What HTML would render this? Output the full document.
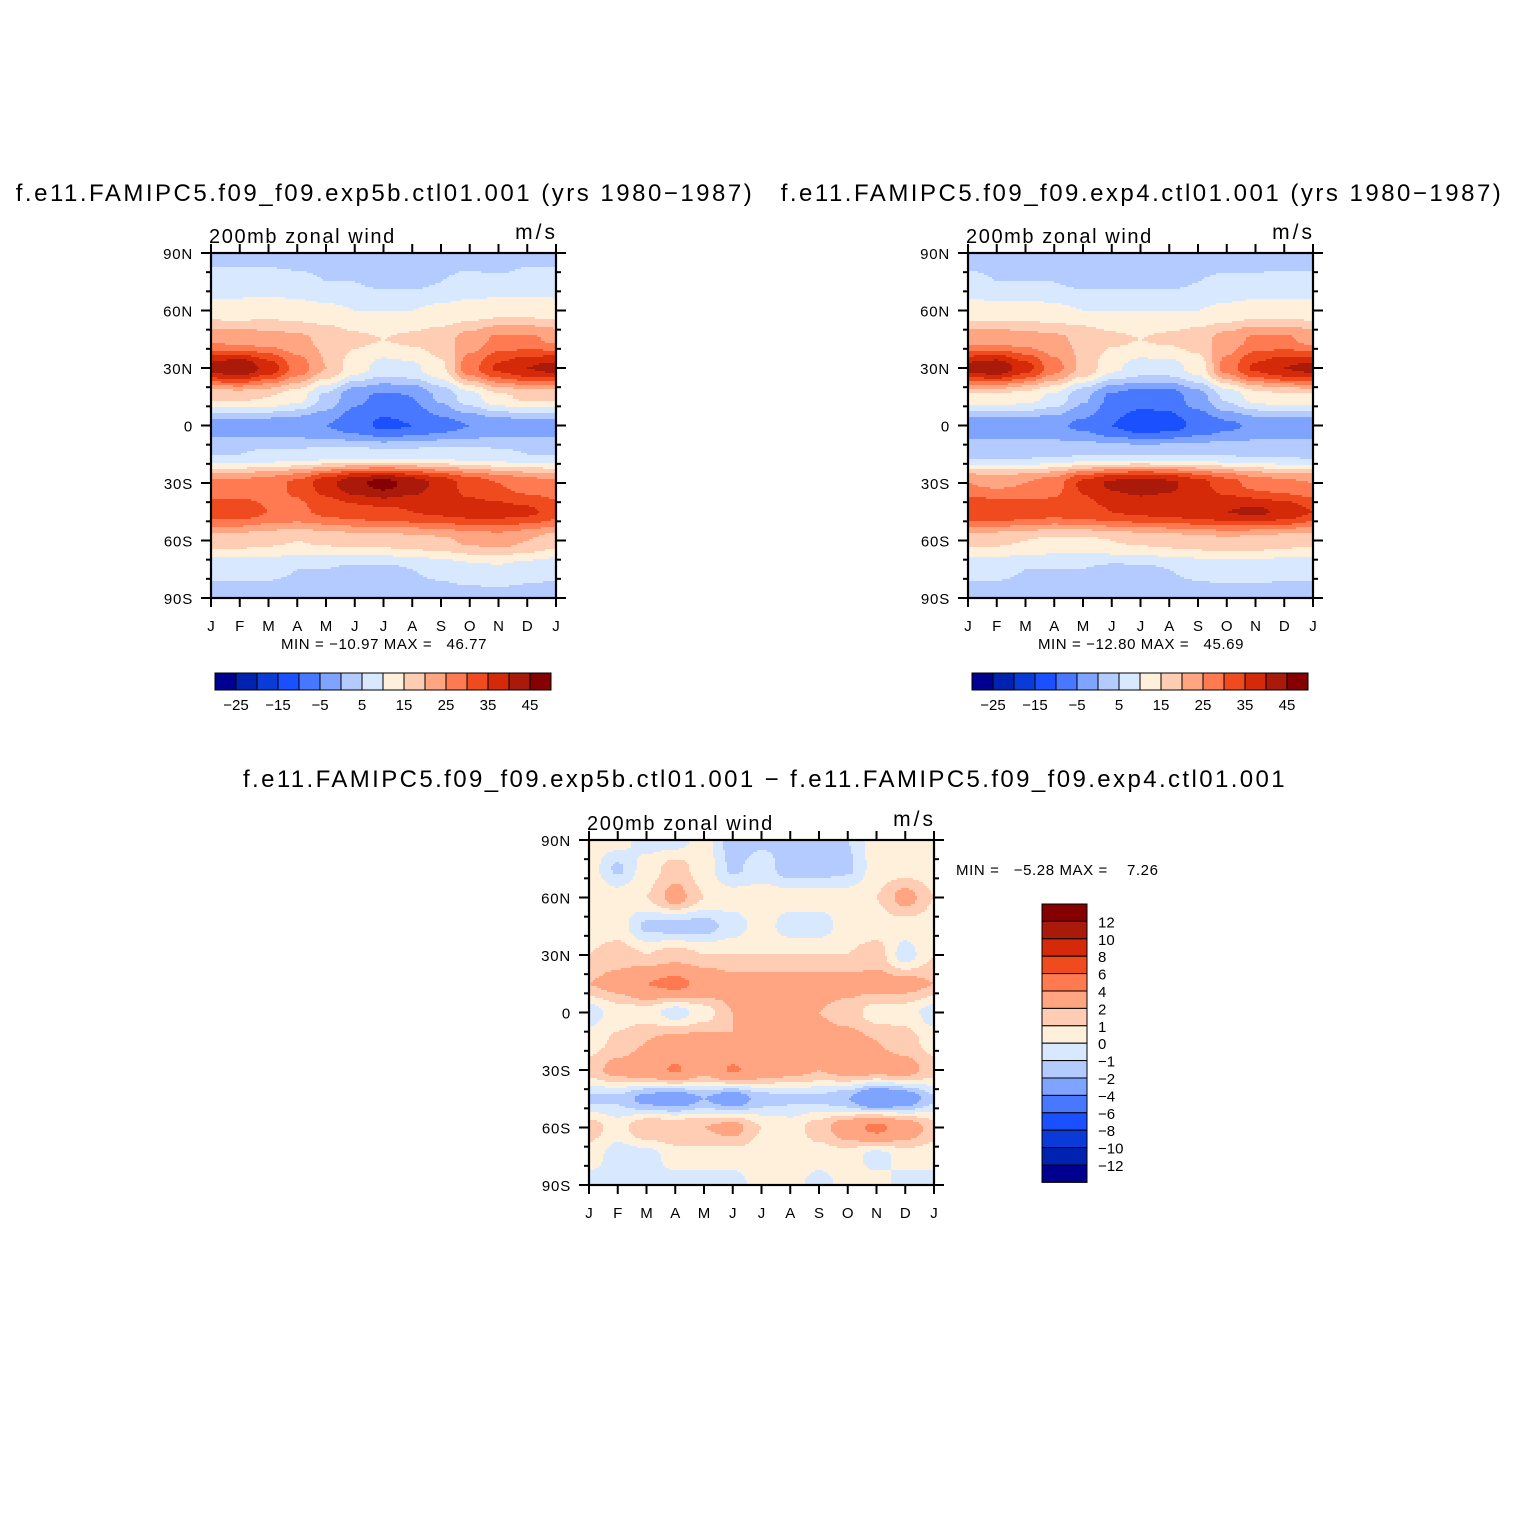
<!DOCTYPE html>
<html><head><meta charset="utf-8">
<style>
html,body{margin:0;padding:0;background:#fff;}
svg{display:block;font-family:"Liberation Sans",sans-serif;}
text{white-space:pre;}
</style></head>
<body>
<svg id="root" width="1524" height="1524" viewBox="0 0 1524 1524" xmlns="http://www.w3.org/2000/svg">
<rect width="1524" height="1524" fill="#fff"/>
</svg>
<script>
const months = ["J","F","M","A","M","J","J","A","S","O","N","D","J"];
const lats = [90,75,60,45,30,15,0,-15,-30,-45,-60,-75,-90];
const latTicks = ["90N","60N","30N","0","30S","60S","90S"];
const palette = ["#000090","#0022b0","#0a3ad8","#1a50ff","#4878ff","#7ea4ff","#b4cbff","#d8e8ff","#fff0dc","#ffcdb4","#ffa582","#ff7a50","#f04b1e","#d42a0a","#aa1a0a","#850000"];
const levelsFull = [-25,-20,-15,-10,-5,0,5,10,15,20,25,30,35,40,45];
const levelsDiff = [-12,-10,-8,-6,-4,-2,-1,0,1,2,4,6,8,10,12];
const cbLabelsFull = ["-25","-15","-5","5","15","25","35","45"];
const cbLabelsDiff = ["12","10","8","6","4","2","1","0","\u22121","\u22122","\u22124","\u22126","\u22128","\u221210","\u221212"];
const fieldA = [
[3,3,3,3,3,3,3,3,3,3,1,3,3],
[7,7,7,6,5,5,4,4,5,6,6,7,7],
[12,12,13,12,11,10,10,10,11,12,13,13,12],
[24,23,22,21,19,16,15,16,18,22,26,26,24],
[42,45,38,28,20,12,8,9,14,28,36,40,42],
[16,16,15,12,4,-4,-6,-5,1,8,14,16,16],
[-3,-3,-3,-4,-5,-8,-11,-10,-7,-5,-3,-3,-3],
[5,5,6,6,7,7,7,7,7,7,6,5,5],
[26,26,28,31,38,44,47,43,38,33,30,27,26],
[33,33,30,29,31,33,34,35,36,37,37,36,33],
[17,17,16,15,16,17,17,18,19,21,22,20,17],
[6,6,6,5,5,4,4,5,6,8,9,7,6],
[3,3,3,3,3,2,2,3,3,3,3,3,3]];
const fieldB = [
[3,3,3,2,2,2,2,2,2,2,2,3,3],
[6,5,5,5,4,4,4,4,5,6,6,6,6],
[12,12,12,11,10,10,10,10,10,11,12,12,12],
[23,23,22,21,19,16,15,16,18,22,26,26,23],
[42,44,37,27,19,11,8,8,12,27,36,40,42],
[14,14,12,9,1,-6,-8,-8,-2,6,12,14,14],
[-3,-3,-3,-4,-6,-10,-13,-12,-9,-6,-4,-3,-3],
[4,4,4,4,5,5,5,5,5,5,4,4,4],
[25,24,25,28,36,41,43,41,37,32,28,26,25],
[35,35,33,32,33,35,36,37,38,40,41,39,35],
[16,16,15,14,14,15,16,17,18,19,18,17,16],
[6,6,5,5,5,4,4,5,6,7,7,6,6],
[3,3,3,3,3,3,3,3,3,3,3,3,3]];
const fieldD = [
[0.5,0.5,-0.5,-0.5,0.5,-1.5,-1.2,-1.2,-1.5,-1,0.5,0.5,0.5],
[0.5,-1.2,0.5,1.5,0.5,-1.2,-0.5,-1.5,-1.5,-1.2,0.5,0.5,0.5],
[1,0.5,1,2.5,1,0.5,0.5,0.5,0.5,0.5,1,2.5,1],
[0.5,0.5,-1.2,-1.5,-1.5,-0.5,0.5,-0.5,-0.5,0.5,0.5,0.5,0.5],
[1,1.5,1,1.5,1,1,1,1,1,1,1.5,-0.5,1],
[2,2.5,4,4.5,3.5,2.5,2.5,2.5,2.5,2.5,2.5,2.5,2],
[-0.5,0.5,0.5,-0.5,0.5,2,2.5,2.5,2,1.5,0.5,0.5,-0.5],
[0.5,1.2,2,2.5,2.5,2,2.5,2.5,2.5,2.5,2,1.5,0.5],
[1.5,2.5,3,4.2,2.5,4.2,3,2.5,2,2.5,2.5,2.5,1.5],
[-1.2,-1.2,-2.5,-3,-2,-3,-1.5,-1.2,-1.2,-2,-4,-3,-1.2],
[1.5,0.5,2,2,2,2.5,1,0.5,1.5,3,4.5,3,1.5],
[0.5,-0.5,-0.5,0.5,0.5,0.5,0.5,0.5,0.5,0.5,-0.5,0.5,0.5],
[-0.5,-0.5,-0.5,-0.5,-0.5,-0.5,0.5,0.5,-0.5,0.5,0.5,-0.5,-0.5]];

const NS="http://www.w3.org/2000/svg";
const root=document.getElementById('root');
function mk(tag,attrs,parent){const e=document.createElementNS(NS,tag);for(const k in attrs)e.setAttribute(k,attrs[k]);(parent||root).appendChild(e);return e;}
function txt(s,x,y,size,anchor,parent,name,ls){const t=mk('text',{x:x,y:y,'font-size':size,'text-anchor':anchor||'start',fill:'#000','letter-spacing':ls||0},parent);t.textContent=s;


return t;}
function colorIdx(v,levels){let i=0;while(i<levels.length&&v>=levels[i])i++;return i;}
function sample(field,fx,fy){const nx=field[0].length-1,ny=field.length-1;
let x=fx*nx,y=fy*ny;let i=Math.min(Math.floor(x),nx-1),j=Math.min(Math.floor(y),ny-1);
let u=x-i,v=y-j;u=u*u*(3-2*u);v=v*v*(3-2*v);
return field[j][i]*(1-u)*(1-v)+field[j][i+1]*u*(1-v)+field[j+1][i]*(1-u)*v+field[j+1][i+1]*u*v;}

function panel(px,py,W,H,field,levels,name){
  const g=mk('g',{});
  
  
  const step=2;
  for(let yy=0;yy<H;yy+=step){
    let runStart=0,runC=-1;
    const cols=[];
    for(let xx=0;xx<W;xx+=step){cols.push(colorIdx(sample(field,(xx+step/2)/W,(yy+step/2)/H),levels));}
    cols.push(-2);
    for(let k=0;k<cols.length;k++){
      if(cols[k]!==runC){
        if(runC>=0){const r=mk('rect',{x:px+runStart*step,y:py+yy,width:Math.min((k-runStart)*step,W-runStart*step)+0.4,height:Math.min(step,H-yy)+0.4,fill:palette[runC]},g);
          
          }
        runStart=k;runC=cols[k];
      }
    }
  }
  const f=mk('rect',{x:px,y:py,width:W,height:H,fill:'none',stroke:'#000','stroke-width':2.2},g);
  
  
  for(let i=0;i<months.length;i++){
    const x=px+i*W/12;
    mk('line',{x1:x,y1:py+H,x2:x,y2:py+H+9,stroke:'#000','stroke-width':2},g);
    mk('line',{x1:x,y1:py,x2:x,y2:py-9,stroke:'#000','stroke-width':2},g);
    txt(months[i],x,py+H+33,15,'middle',g,'x-tick-label');
  }
  for(let d=0;d<=18;d++){
    const y=py+d*H/18;const major=d%3===0;const L=major?10:5;
    mk('line',{x1:px,y1:y,x2:px-L,y2:y,stroke:'#000','stroke-width':2},g);
    mk('line',{x1:px+W,y1:y,x2:px+W+L,y2:y,stroke:'#000','stroke-width':2},g);
    if(major)txt(latTicks[d/3],px-18,y+6,15,'end',g,'y-tick-label',0.8);
  }
  txt("200mb zonal wind",px-2,py-10,20,'start',g,'variable-label',1.6);
  txt("m/s",px+W+2,py-14,21,'end',g,'units-label',3);
  return g;
}
function hbar(x,y,levels,labels,name){
  const g=mk('g',{});
  
  
  const bw=21;
  for(let i=0;i<16;i++){const r=mk('rect',{x:x+i*bw,y:y,width:bw,height:17,fill:palette[i],stroke:'#000','stroke-width':1},g);
    
    }
  for(let k=0;k<labels.length;k++){txt(labels[k].replace('-','\u2212'),x+(1+2*k)*bw,y+37,15,'middle',g,'colorbar-label');}
}
function vbar(x,y,name){
  const g=mk('g',{});
  
  
  const bh=17.4;
  for(let i=0;i<16;i++){const r=mk('rect',{x:x,y:y+i*bh,width:45,height:bh,fill:palette[15-i],stroke:'#000','stroke-width':1},g);
    
    }
  for(let k=0;k<cbLabelsDiff.length;k++){txt(cbLabelsDiff[k],x+56,y+(k+1)*bh+6,15,'start',g,'colorbar-label');}
}
panel(211,253,345,345,fieldA,levelsFull,'panel-exp5b');
panel(968,253,345,345,fieldB,levelsFull,'panel-exp4');
panel(589,840,345,345,fieldD,levelsDiff,'panel-difference');
txt("f.e11.FAMIPC5.f09_f09.exp5b.ctl01.001 (yrs 1980\u22121987)",385,201,24,'middle',null,'title-exp5b',2.5);
txt("f.e11.FAMIPC5.f09_f09.exp4.ctl01.001 (yrs 1980\u22121987)",1142,201,24,'middle',null,'title-exp4',2.5);
txt("f.e11.FAMIPC5.f09_f09.exp5b.ctl01.001 \u2212 f.e11.FAMIPC5.f09_f09.exp4.ctl01.001",765,787,24,'middle',null,'title-difference',2.4);
txt("MIN = \u221210.97 MAX =   46.77",384,649,15,'middle',null,'minmax-exp5b',0.6);
txt("MIN = \u221212.80 MAX =   45.69",1141,649,15,'middle',null,'minmax-exp4',0.6);
txt("MIN =   \u22125.28 MAX =    7.26",956,875,15,'start',null,'minmax-difference',0.6);
hbar(215,673,levelsFull,cbLabelsFull,'colorbar-exp5b');
hbar(972,673,levelsFull,cbLabelsFull,'colorbar-exp4');
vbar(1042,904,'colorbar-difference');
</script>
</body></html>
